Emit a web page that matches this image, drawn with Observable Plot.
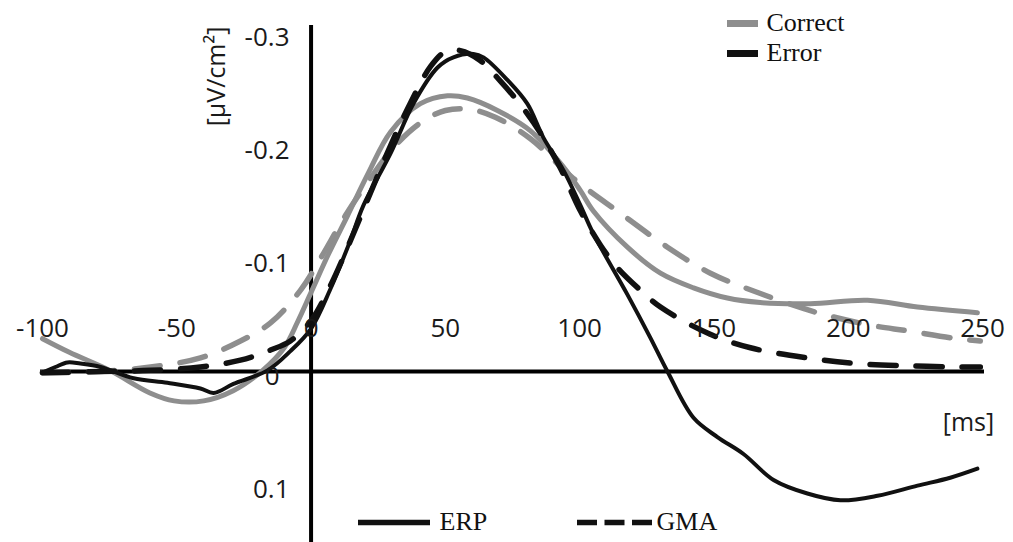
<!DOCTYPE html>
<html><head><meta charset="utf-8">
<script src="https://cdn.jsdelivr.net/npm/d3@7"></script>
<script src="https://cdn.jsdelivr.net/npm/@observablehq/plot@0.6"></script>
<style>body{margin:0;background:#fff;} #chart svg{display:block;}</style>
</head><body><div id="chart"></div>
<script>
// ---- data (ms, value in µV/cm²) ----
const correctERP_ms = [-100,-90,-75,-60,-51,-40,-29,-18,-10,-5,0,6.5,13.6,21.4,29.6,40.7,50.8,58.2,69.4,81.7,94,100.3,105.1,117.8,130.1,142.4,155,167.3,185.9,207.2,225.8,248.1];
const correctERP_v  = [-0.029,-0.017,-0.001,0.019,0.026,0.026,0.017,-0.001,-0.021,-0.044,-0.070,-0.104,-0.138,-0.176,-0.212,-0.237,-0.244,-0.242,-0.231,-0.213,-0.181,-0.160,-0.142,-0.110,-0.087,-0.074,-0.065,-0.061,-0.060,-0.063,-0.057,-0.052];

const errorERP_ms = [-100,-95.2,-90.7,-85.9,-78.4,-66.1,-53.5,-41.2,-36.3,-28.9,-16.2,-7.7,0,7.2,14.3,19.5,29.6,38.1,47.1,53,60.5,64.2,73.1,80.5,86.5,94,100.3,105.1,117.8,126.3,132.7,142.4,151.3,161,172.2,184.8,197.1,210.9,225.8,238,248.1];
const errorERP_v  = [0.001,-0.004,-0.008,-0.007,-0.004,0.006,0.010,0.015,0.019,0.011,-0.001,-0.018,-0.038,-0.073,-0.114,-0.147,-0.193,-0.237,-0.269,-0.278,-0.281,-0.278,-0.258,-0.237,-0.207,-0.178,-0.147,-0.122,-0.068,-0.030,0.000,0.041,0.058,0.073,0.096,0.108,0.114,0.110,0.101,0.094,0.086];

const correctGMA_ms = [-100,-78.4,-59.8,-41.2,-26.3,-15.1,-3.9,3.5,12.8,22.1,31.4,40.7,50,59.3,68.6,81.7,97.6,115.2,132.7,148.7,167.3,188.6,208.3,222,240.7,249.2];
const correctGMA_v  = [0.001,0,-0.004,-0.012,-0.027,-0.043,-0.072,-0.100,-0.138,-0.171,-0.200,-0.220,-0.231,-0.232,-0.225,-0.206,-0.171,-0.140,-0.110,-0.087,-0.069,-0.052,-0.041,-0.036,-0.029,-0.027];

const errorGMA_ms = [-100,-78.4,-59.8,-41.2,-26.3,-15.1,-7.7,0,7.2,14.7,22.1,29.6,37.1,44.5,50,55.6,63.1,70.5,78,85.4,92.8,100.3,107.7,114,122.6,130.1,147.6,163.6,184.8,203.4,223.1,241.7,249.2];
const errorGMA_v  = [0.001,0,-0.001,-0.004,-0.010,-0.019,-0.027,-0.045,-0.076,-0.116,-0.158,-0.200,-0.238,-0.270,-0.283,-0.284,-0.275,-0.257,-0.236,-0.211,-0.180,-0.142,-0.112,-0.092,-0.072,-0.057,-0.034,-0.021,-0.012,-0.007,-0.005,-0.004,-0.004];

const xTicks = [-100,-50,0,50,100,150,200,250];
const yTicks = [-0.3,-0.2,-0.1,0,0.1];
const legendTop = ["Correct","Error"];
const legendBottom = ["ERP","GMA"];
const yTitle = "[µV/cm²]";
const xTitle = "[ms]";

// ---- layout ----
const W = 1013, H = 542;
const xs = d3.scaleLinear([-100,250],[42,982]);
const ys = d3.scaleLinear([-0.3,0.1],[32,484]);
const px = p => xs.invert(p), py = p => ys.invert(p);
const GRAY = "#8e8e8e", BLACK = "#111";

const rows = (ms, v) => ms.map((m,i)=>({ms:m, v:v[i]}));

const chart = Plot.plot({
  width: W, height: H, margin: 0,
  x: {domain:[-100,250], range:[42,982], axis:null},
  y: {domain:[-0.3,0.1], range:[32,484], axis:null},
  style: {fontFamily:"'Open Sans', sans-serif", background:"#fff"},
  marks: [
    // axes
    Plot.ruleY([0], {x1: px(40), x2: px(984), stroke:"#000", strokeWidth:4}),
    Plot.ruleX([0], {y1: py(25), y2: py(542), stroke:"#000", strokeWidth:4}),
    // series
    Plot.line(rows(correctGMA_ms, correctGMA_v), {x:"ms", y:"v", stroke:GRAY, strokeWidth:5.5, strokeDasharray:"26,20", curve:"catmull-rom"}),
    Plot.line(rows(correctERP_ms, correctERP_v), {x:"ms", y:"v", stroke:GRAY, strokeWidth:5, curve:"catmull-rom"}),
    Plot.line(rows(errorGMA_ms, errorGMA_v), {x:"ms", y:"v", stroke:BLACK, strokeWidth:5.5, strokeDasharray:"26,20", curve:"catmull-rom"}),
    Plot.line(rows(errorERP_ms, errorERP_v), {x:"ms", y:"v", stroke:BLACK, strokeWidth:4, curve:"catmull-rom"}),
    // tick labels
    Plot.text(xTicks, {x: d=>d, y: ()=>py(328), text: d=>String(d), fontSize:26, fill:"#1a1a1a"}),
    Plot.text(yTicks, {x: d=> d===0 ? px(279) : px(289), y: d=>d, dy:5, text: d=>String(d), textAnchor:"end", fontSize:26, fill:"#1a1a1a"}),
    // axis titles
    Plot.text([yTitle], {x: ()=>px(216), y: ()=>py(76), rotate:-90, fontSize:25, fill:"#1a1a1a"}),
    Plot.text([xTitle], {x: ()=>px(968), y: ()=>py(422), fontSize:25, fill:"#1a1a1a"}),
    // top legend
    Plot.ruleY([py(23)], {x1: px(727), x2: px(758), stroke:GRAY, strokeWidth:7}),
    Plot.ruleY([py(53)], {x1: px(727), x2: px(758), stroke:BLACK, strokeWidth:7}),
    Plot.text(legendTop, {x: ()=>px(766), y: (d,i)=> py(i===0 ? 22 : 52), text: d=>d, textAnchor:"start", fontFamily:"'Liberation Serif', serif", fontSize:26, fill:"#111"}),
    // bottom legend
    Plot.ruleY([py(522)], {x1: px(358), x2: px(430), stroke:BLACK, strokeWidth:5.5}),
    Plot.ruleY([py(522)], {x1: px(577), x2: px(652), stroke:BLACK, strokeWidth:5.5, strokeDasharray:"20,7.5"}),
    Plot.text(legendBottom, {x: (d,i)=>px(i===0 ? 439 : 656), y: ()=>py(521), text: d=>d, textAnchor:"start", fontFamily:"'Liberation Serif', serif", fontSize:26, fill:"#111"})
  ]
});
document.getElementById("chart").append(chart);
</script>
</body></html>
